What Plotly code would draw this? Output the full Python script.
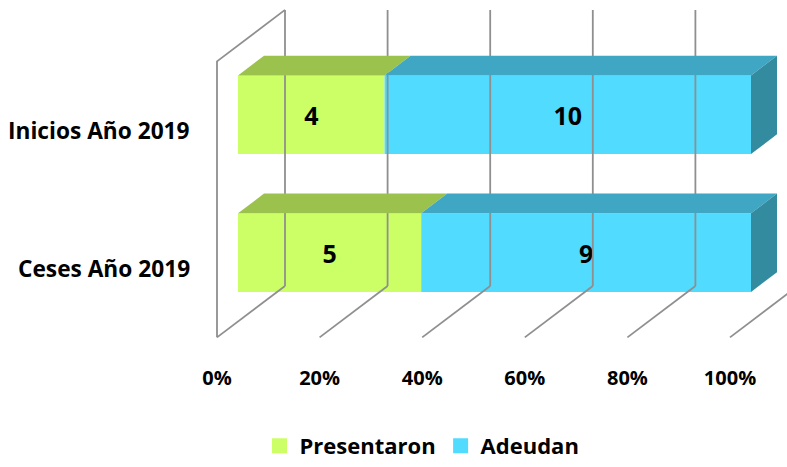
import plotly.graph_objects as go

# --- data -------------------------------------------------------------
categories = ["Inicios Año 2019", "Ceses Año 2019"]
series_names = ["Presentaron", "Adeudan"]
presentaron = [4, 5]
adeudan = [10, 9]
tick_values = [0, 20, 40, 60, 80, 100]
tick_labels = ["0%", "20%", "40%", "60%", "80%", "100%"]

# --- styling ----------------------------------------------------------
FRONT = {"Presentaron": "#CCFF66", "Adeudan": "#50DBFF"}
TOP = {"Presentaron": "#9CC24E", "Adeudan": "#3FA6C3"}
SIDE = {"Presentaron": "#7FA040", "Adeudan": "#338B9F"}
GRID = "#8F8F8F"
FONT = "Open Sans"

W, H = 787, 467
PX_PER_PCT = 5.13          # horizontal scale: pixels per percent on the floor front edge
X0_PX = 217                # pixel column of 0 % on the floor front edge
WALL_DX, WALL_DY = 68, 52  # full depth of the 3-D box (px)
BAR_SHIFT = 21             # front face of the bars, px behind the floor edge
BAR_DX, BAR_DY = 26, 20    # bar depth (px)
WALL_TOP, FLOOR_FRONT = 10, 341
BAR_WIDTH = 79.5
bar_centers = [116, 255.4]  # vertical position of each bar's front face

def px_to_pct(dx):
    return dx / PX_PER_PCT

x_range = [px_to_pct(-X0_PX), px_to_pct(W - X0_PX)]
wall_dx = px_to_pct(WALL_DX)
bar_shift = px_to_pct(BAR_SHIFT)
bar_dx = px_to_pct(BAR_DX)

fig = go.Figure()

# --- 3-D frame: left wall, back wall gridlines, floor gridlines ------
line = dict(color=GRID, width=1.8)
floor_back = FLOOR_FRONT - WALL_DY
fig.add_trace(go.Scatter(
    x=[wall_dx, 0, 0], y=[WALL_TOP, WALL_TOP + WALL_DY, FLOOR_FRONT],
    mode="lines", line=line, hoverinfo="skip", showlegend=False))
for t in tick_values:
    fig.add_trace(go.Scatter(
        x=[t + wall_dx, t + wall_dx], y=[WALL_TOP, floor_back],
        mode="lines", line=line, hoverinfo="skip", showlegend=False))
    fig.add_trace(go.Scatter(
        x=[t, t + wall_dx], y=[FLOOR_FRONT, floor_back],
        mode="lines", line=line, hoverinfo="skip", showlegend=False))

# --- stacked 100 % bars with top and side faces ----------------------
values = {"Presentaron": presentaron, "Adeudan": adeudan}
for i, cat in enumerate(categories):
    total = sum(values[s][i] for s in series_names)
    cum = 0.0
    yc = bar_centers[i]
    yt, yb = yc - BAR_WIDTH / 2, yc + BAR_WIDTH / 2
    for j, s in enumerate(series_names):
        v = values[s][i]
        pct = v / total * 100
        x0 = bar_shift + cum
        x1 = x0 + pct
        # front face
        fig.add_trace(go.Bar(
            orientation="h", y=[yc], x=[pct], base=[x0], width=BAR_WIDTH,
            marker=dict(color=FRONT[s], line=dict(width=0)),
            text=[str(v)], textposition="inside", insidetextanchor="middle",
            insidetextfont=dict(family=FONT, size=25, color="black", weight="bold"),
            textangle=0, hoverinfo="skip", showlegend=False))
        # top face
        fig.add_trace(go.Scatter(
            x=[x0, x1, x1 + bar_dx, x0 + bar_dx, x0],
            y=[yt, yt, yt - BAR_DY, yt - BAR_DY, yt],
            mode="lines", fill="toself", fillcolor=TOP[s],
            line=dict(width=0), hoverinfo="skip", showlegend=False))
        # right side face on the outermost segment
        if j == len(series_names) - 1:
            fig.add_trace(go.Scatter(
                x=[x1, x1, x1 + bar_dx, x1 + bar_dx, x1],
                y=[yt, yb, yb - BAR_DY, yt - BAR_DY, yt],
                mode="lines", fill="toself", fillcolor=SIDE[s],
                line=dict(width=0), hoverinfo="skip", showlegend=False))
        cum += pct
    # category label, aligned with the bar at floor depth
    fig.add_annotation(
        x=px_to_pct(192 - X0_PX), y=yc + BAR_SHIFT * WALL_DY / WALL_DX,
        xref="x", yref="y", xanchor="right", yanchor="middle",
        text=cat, showarrow=False,
        font=dict(family=FONT, size=22.7, color="black", weight="bold"))

# --- legend entries ---------------------------------------------------
for s in series_names:
    fig.add_trace(go.Scatter(
        x=[None], y=[None], mode="markers", name=s,
        marker=dict(symbol="square", size=15, color=FRONT[s])))

fig.update_layout(
    width=W, height=H, margin=dict(l=0, r=0, t=0, b=0),
    paper_bgcolor="white", plot_bgcolor="white",
    barmode="overlay",
    xaxis=dict(range=x_range, domain=[0, 1], showgrid=False, zeroline=False,
               showline=False, ticks="", tickvals=tick_values, ticktext=tick_labels,
               anchor="free", position=1 - 368 / H,
               tickfont=dict(family=FONT, size=20, color="black", weight="bold")),
    yaxis=dict(range=[H, 0], domain=[0, 1], showgrid=False, zeroline=False,
               showline=False, showticklabels=False),
    legend=dict(orientation="h", x=422 / W, xanchor="center",
                y=1 - 451 / H, yanchor="middle",
                font=dict(family=FONT, size=22, color="black", weight="bold"),
                itemwidth=30, tracegroupgap=0),
    showlegend=True,
)

fig.write_html("out.html")
